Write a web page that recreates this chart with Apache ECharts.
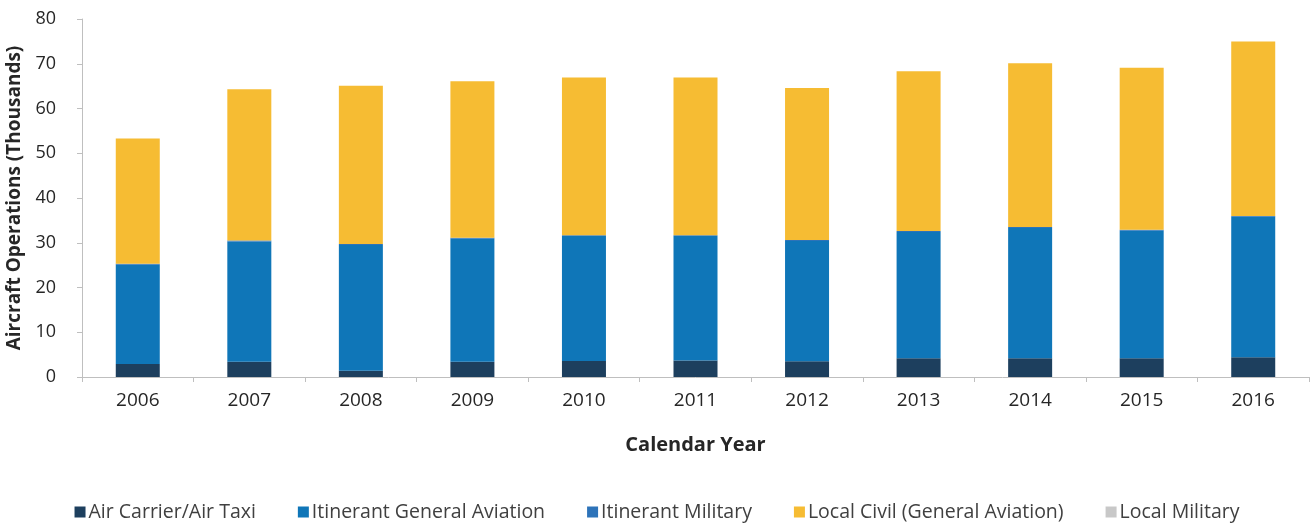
<!DOCTYPE html>
<html>
<head>
<meta charset="utf-8">
<script src="https://cdn.jsdelivr.net/npm/echarts@6/dist/echarts.min.js"></script>
<style>
  html, body { margin: 0; padding: 0; background: #fff; }
  #chart { width: 1314px; height: 525px; }
</style>
</head>
<body>
<div id="chart"></div>
<script>
// values, thousands of operations
const years = ["2006", "2007", "2008", "2009", "2010", "2011", "2012", "2013", "2014", "2015", "2016"];
const airCarrier = [2.9, 3.4, 1.4, 3.4, 3.6, 3.7, 3.5, 4.2, 4.2, 4.2, 4.4];
const itinerantGA = [22.2, 26.9, 28.1, 27.5, 27.9, 27.8, 26.9, 28.2, 29.1, 28.5, 31.4];
const itinerantMil = [0.2, 0.2, 0.2, 0.2, 0.2, 0.2, 0.2, 0.2, 0.2, 0.2, 0.2];
const localCivil = [28.0, 33.8, 35.4, 35.0, 35.2, 35.2, 34.0, 35.7, 36.6, 36.2, 39.0];
const localMil = [0, 0, 0, 0, 0, 0, 0, 0, 0, 0, 0];
const yTicks = [0, 10, 20, 30, 40, 50, 60, 70, 80];

const font = "'Open Sans', 'Noto Sans', sans-serif";
const chart = echarts.init(document.getElementById("chart"));

const mkSeries = (name, data, color) => ({
  name,
  type: "bar",
  stack: "ops",
  data,
  barWidth: 44,
  itemStyle: { color },
});

chart.setOption({
  animation: false,
  textStyle: { fontFamily: font },
  legend: {
    bottom: -2,
    left: "center",
    itemWidth: 11,
    itemHeight: 11,
    itemGap: 42,
    icon: "rect",
    textStyle: { fontSize: 19.5, color: "#404040", fontFamily: font, padding: [0, 0, 0, -2] },
  },
  grid: {
    left: 82,
    right: 5,
    top: 19,
    bottom: 148,
    outerBoundsMode: "none",
  },
  xAxis: {
    type: "category",
    data: years,
    name: "Calendar Year",
    nameLocation: "middle",
    nameGap: 58,
    nameTextStyle: { fontSize: 20, fontWeight: "bold", color: "#262626" },
    axisLine: { lineStyle: { color: "#bfbfbf" } },
    axisTick: { show: true, length: 5, lineStyle: { color: "#bfbfbf" } },
    axisLabel: { fontSize: 19, color: "#262626", margin: 14 },
  },
  yAxis: {
    type: "value",
    min: yTicks[0],
    max: yTicks[yTicks.length - 1],
    interval: 10,
    name: "Aircraft Operations (Thousands)",
    nameLocation: "middle",
    nameGap: 58,
    nameTextStyle: { fontSize: 19, fontWeight: "bold", color: "#262626" },
    axisLine: { show: true, lineStyle: { color: "#bfbfbf" } },
    axisTick: { show: true, length: 5, lineStyle: { color: "#bfbfbf" } },
    axisLabel: { fontSize: 18, color: "#262626", margin: 26 },
    splitLine: { show: false },
  },
  series: [
    mkSeries("Air Carrier/Air Taxi", airCarrier, "#1d3f5e"),
    mkSeries("Itinerant General Aviation", itinerantGA, "#0f76b8"),
    mkSeries("Itinerant Military", itinerantMil, "#2d73b9"),
    mkSeries("Local Civil (General Aviation)", localCivil, "#f6bc33"),
    mkSeries("Local Military", localMil, "#c8c8c8"),
  ],
});

window.addEventListener("resize", () => chart.resize());
</script>
</body>
</html>
